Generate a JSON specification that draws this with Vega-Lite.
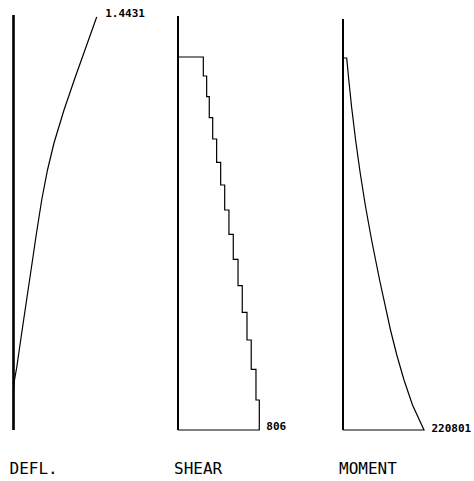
{
  "$schema": "https://vega.github.io/schema/vega-lite/v6.json",
  "padding": 0,
  "spacing": 0,
  "background": "white",
  "config": {
    "view": {"stroke": null},
    "concat": {"spacing": 0},
    "title": {"font": "DejaVu Sans Mono", "fontSize": 16, "fontWeight": "normal", "color": "black", "anchor": "start", "orient": "bottom"},
    "text": {"font": "DejaVu Sans Mono", "fontSize": 11, "fontWeight": "bold", "color": "black"},
    "line": {"color": "black", "strokeWidth": 1.2},
    "rule": {"color": "black", "strokeWidth": 1.2}
  },
  "datasets": {
    "defl": [
      {"height": 413, "deflection": 1.4431},
      {"height": 383, "deflection": 1.2575},
      {"height": 353, "deflection": 1.0719},
      {"height": 320, "deflection": 0.8759},
      {"height": 287, "deflection": 0.7025},
      {"height": 260, "deflection": 0.5897},
      {"height": 230, "deflection": 0.4891},
      {"height": 197, "deflection": 0.3989},
      {"height": 163, "deflection": 0.3122},
      {"height": 130, "deflection": 0.2272},
      {"height": 97, "deflection": 0.1422},
      {"height": 63, "deflection": 0.0572},
      {"height": 50, "deflection": 0.0173},
      {"height": 38, "deflection": 0},
      {"height": 0, "deflection": 0}
    ],
    "shear": [
      {"order": 1, "height": 373, "shear": 0},
      {"order": 2, "height": 354, "shear": 251},
      {"order": 3, "height": 333.3, "shear": 284},
      {"order": 4, "height": 312.3, "shear": 310},
      {"order": 5, "height": 291, "shear": 344},
      {"order": 6, "height": 267.7, "shear": 383},
      {"order": 7, "height": 245, "shear": 423},
      {"order": 8, "height": 220, "shear": 463},
      {"order": 9, "height": 195.7, "shear": 505},
      {"order": 10, "height": 170.7, "shear": 548},
      {"order": 11, "height": 144.3, "shear": 595},
      {"order": 12, "height": 117.7, "shear": 637},
      {"order": 13, "height": 90, "shear": 684},
      {"order": 14, "height": 60.7, "shear": 726},
      {"order": 15, "height": 30, "shear": 773},
      {"order": 16, "height": 0, "shear": 806},
      {"order": 17, "height": 0, "shear": 0}
    ],
    "moment": [
      {"order": 1, "height": 372, "moment": 0},
      {"order": 2, "height": 372, "moment": 10086},
      {"order": 3, "height": 350, "moment": 15810},
      {"order": 4, "height": 323, "moment": 23443},
      {"order": 5, "height": 290, "moment": 34346},
      {"order": 6, "height": 257, "moment": 46885},
      {"order": 7, "height": 223, "moment": 61605},
      {"order": 8, "height": 190, "moment": 77961},
      {"order": 9, "height": 150, "moment": 99768},
      {"order": 10, "height": 100, "moment": 129480},
      {"order": 11, "height": 75, "moment": 146653},
      {"order": 12, "height": 50, "moment": 166280},
      {"order": 13, "height": 25, "moment": 189450},
      {"order": 14, "height": 0, "moment": 220801},
      {"order": 15, "height": 0, "moment": 0}
    ]
  },
  "hconcat": [
    {
      "width": 158,
      "height": 440,
      "title": {"text": "DEFL.", "offset": 20.5, "dx": 9.5},
      "data": {"name": "defl"},
      "layer": [
        {
          "mark": {"type": "rule"},
          "encoding": {
            "x": {"datum": 0, "type": "quantitative", "scale": {"domain": [-0.23416, 2.5064], "nice": false, "zero": false}, "axis": null},
            "y": {"datum": 0, "type": "quantitative", "scale": {"domain": [-10, 430], "nice": false, "zero": false}, "axis": null},
            "y2": {"datum": 415}
          }
        },
        {
          "mark": {"type": "line"},
          "encoding": {
            "x": {"field": "deflection", "type": "quantitative", "scale": {"domain": [-0.23416, 2.5064], "nice": false, "zero": false}, "axis": null},
            "y": {"field": "height", "type": "quantitative", "scale": {"domain": [-10, 430], "nice": false, "zero": false}, "axis": null},
            "order": {"field": "height", "sort": "descending"}
          }
        },
        {
          "transform": [
            {"joinaggregate": [{"op": "max", "field": "deflection", "as": "peak"}]},
            {"filter": "datum.deflection == datum.peak"}
          ],
          "mark": {"type": "text", "align": "left", "baseline": "middle", "dx": 8.5, "dy": -3.5},
          "encoding": {
            "x": {"field": "deflection", "type": "quantitative", "scale": {"domain": [-0.23416, 2.5064], "nice": false, "zero": false}, "axis": null},
            "y": {"field": "height", "type": "quantitative", "scale": {"domain": [-10, 430], "nice": false, "zero": false}, "axis": null},
            "text": {"field": "deflection", "type": "quantitative", "format": ".4f"}
          }
        }
      ]
    },
    {
      "width": 165,
      "height": 440,
      "title": {"text": "SHEAR", "offset": 20.5, "dx": 16},
      "data": {"name": "shear"},
      "layer": [
        {
          "mark": {"type": "rule"},
          "encoding": {
            "x": {"datum": 0, "type": "quantitative", "scale": {"domain": [-198.3, 1437.5], "nice": false, "zero": false}, "axis": null},
            "y": {"datum": 0, "type": "quantitative", "scale": {"domain": [-10, 430], "nice": false, "zero": false}, "axis": null},
            "y2": {"datum": 414}
          }
        },
        {
          "mark": {"type": "line", "interpolate": "step-after"},
          "encoding": {
            "x": {"field": "shear", "type": "quantitative", "scale": {"domain": [-198.3, 1437.5], "nice": false, "zero": false}, "axis": null},
            "y": {"field": "height", "type": "quantitative", "scale": {"domain": [-10, 430], "nice": false, "zero": false}, "axis": null},
            "order": {"field": "order"}
          }
        },
        {
          "transform": [
            {"joinaggregate": [{"op": "max", "field": "shear", "as": "peak"}]},
            {"filter": "datum.shear == datum.peak"}
          ],
          "mark": {"type": "text", "align": "left", "baseline": "middle", "dx": 7, "dy": -3},
          "encoding": {
            "x": {"field": "shear", "type": "quantitative", "scale": {"domain": [-198.3, 1437.5], "nice": false, "zero": false}, "axis": null},
            "y": {"field": "height", "type": "quantitative", "scale": {"domain": [-10, 430], "nice": false, "zero": false}, "axis": null},
            "text": {"field": "shear", "type": "quantitative", "format": "d"}
          }
        }
      ]
    },
    {
      "width": 151,
      "height": 440,
      "title": {"text": "MOMENT", "offset": 20.5, "dx": 16},
      "data": {"name": "moment"},
      "layer": [
        {
          "mark": {"type": "rule"},
          "encoding": {
            "x": {"datum": 0, "type": "quantitative", "scale": {"domain": [-54518, 357093], "nice": false, "zero": false}, "axis": null},
            "y": {"datum": 0, "type": "quantitative", "scale": {"domain": [-10, 430], "nice": false, "zero": false}, "axis": null},
            "y2": {"datum": 411}
          }
        },
        {
          "mark": {"type": "line"},
          "encoding": {
            "x": {"field": "moment", "type": "quantitative", "scale": {"domain": [-54518, 357093], "nice": false, "zero": false}, "axis": null},
            "y": {"field": "height", "type": "quantitative", "scale": {"domain": [-10, 430], "nice": false, "zero": false}, "axis": null},
            "order": {"field": "order"}
          }
        },
        {
          "transform": [
            {"joinaggregate": [{"op": "max", "field": "moment", "as": "peak"}]},
            {"filter": "datum.moment == datum.peak"}
          ],
          "mark": {"type": "text", "align": "left", "baseline": "middle", "dx": 7.5, "dy": -1},
          "encoding": {
            "x": {"field": "moment", "type": "quantitative", "scale": {"domain": [-54518, 357093], "nice": false, "zero": false}, "axis": null},
            "y": {"field": "height", "type": "quantitative", "scale": {"domain": [-10, 430], "nice": false, "zero": false}, "axis": null},
            "text": {"field": "moment", "type": "quantitative", "format": "d"}
          }
        }
      ]
    }
  ]
}
